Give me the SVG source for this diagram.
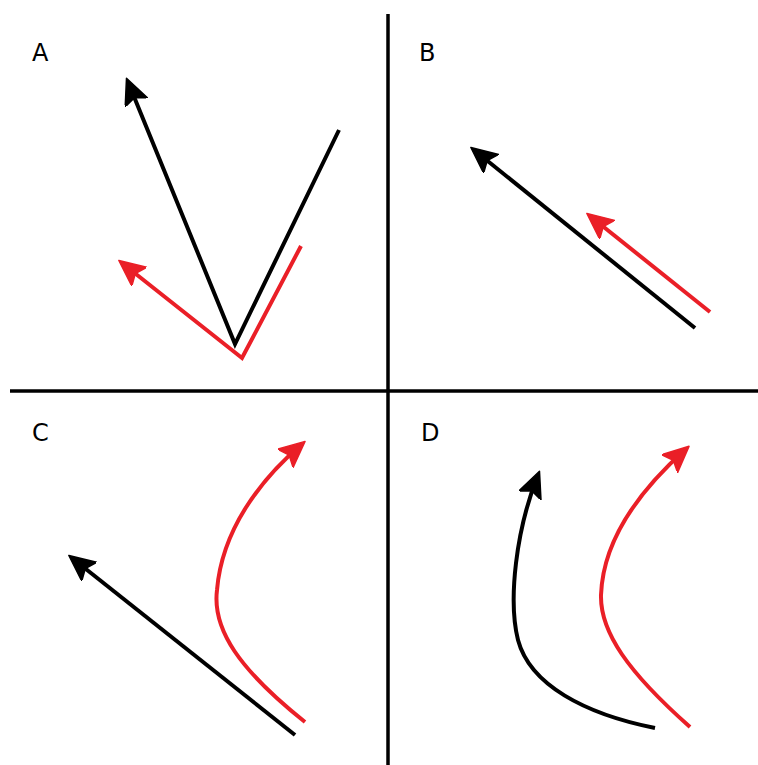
<svg xmlns="http://www.w3.org/2000/svg" width="758" height="765" viewBox="0 0 758 765">
<style>
.k{stroke:#000;fill:none;stroke-width:4;stroke-linejoin:miter}
.r{stroke:#ea1f27;fill:none;stroke-width:4;stroke-linejoin:miter}
.d{stroke:#000;stroke-width:3.5}
.lbl{font-family:"DejaVu Sans",sans-serif;font-size:24px;fill:#000}
</style>
<defs>
<marker id="ak" markerUnits="userSpaceOnUse" markerWidth="28" markerHeight="26" refX="22" refY="12" orient="auto" viewBox="0 0 28 26">
<path d="M0,0 L26,12 L0,24 L5,12 z" fill="#000" stroke="#000" stroke-width="1.5" stroke-linejoin="round"/>
</marker>
<marker id="ar" markerUnits="userSpaceOnUse" markerWidth="28" markerHeight="26" refX="22" refY="12" orient="auto" viewBox="0 0 28 26">
<path d="M0,0 L26,12 L0,24 L5,12 z" fill="#ea1f27" stroke="#ea1f27" stroke-width="1.5" stroke-linejoin="round"/>
</marker>
</defs>
<rect width="758" height="765" fill="#fff"/>
<g id="dividers">
<line class="d" x1="388" y1="14" x2="388" y2="765"/>
<line class="d" x1="10" y1="391" x2="758" y2="391"/>
</g>
<g id="labels">
<text class="lbl" x="32" y="61">A</text>
<text class="lbl" x="419" y="61">B</text>
<text class="lbl" x="32" y="441">C</text>
<text class="lbl" x="421" y="441">D</text>
</g>
<g id="connectors">
<path class="k" d="M339,130 L235,344 L128,82" marker-end="url(#ak)"/>
<path class="r" d="M301,246 L242,358 L122,263" marker-end="url(#ar)"/>
<path class="k" d="M695,328 L474,150" marker-end="url(#ak)"/>
<path class="r" d="M710,312 L590,216" marker-end="url(#ar)"/>
<path class="k" d="M295,735 L72,558" marker-end="url(#ak)"/>
<path class="r" d="M305,722 C240,670 212,630 217,590 C222,530 260,480 302,444" marker-end="url(#ar)"/>
<path class="k" d="M655,728 C585,714 530,685 518,640 C508,600 516,530 538,475" marker-end="url(#ak)"/>
<path class="r" d="M690,727 C628,672 600,632 601,595 C603,540 640,490 686,449" marker-end="url(#ar)"/>
</g>
</svg>
